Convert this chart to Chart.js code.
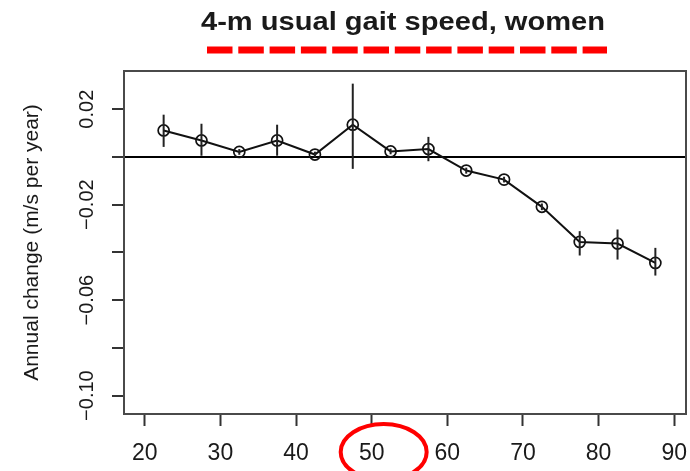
<!DOCTYPE html>
<html>
<head>
<meta charset="utf-8">
<script src="https://cdn.jsdelivr.net/npm/chart.js@4.4.1/dist/chart.umd.min.js"></script>
<style>
  body { margin: 0; background: #fff; }
  #wrap { width: 690px; height: 471px; }
</style>
</head>
<body>
<div id="wrap"><canvas id="gait" width="690" height="471"></canvas></div>
<script>
// --- data ---
const ageMid = [22.5, 27.5, 32.5, 37.5, 42.5, 47.5, 52.5, 57.5, 62.5, 67.5, 72.5, 77.5, 82.5, 87.5];
const annualChange = [0.0111, 0.0069, 0.0021, 0.0069, 0.0010, 0.0135, 0.0023, 0.0033,
  -0.0057, -0.0095, -0.0209, -0.0356, -0.0363, -0.0444];
const errHigh = [0.0177, 0.0139, 0.0033, 0.0135, 0.0022, 0.0307, 0.0035, 0.0084,
  -0.0045, -0.0083, -0.0195, -0.0311, -0.0304, -0.0381];
const errLow = [0.0042, 0.0005, 0.0009, 0.0005, 0.0000, -0.0050, 0.0011, -0.0018,
  -0.0070, -0.0107, -0.0223, -0.0413, -0.0430, -0.0497];
const xTicks = [20, 30, 40, 50, 60, 70, 80, 90];
const yTicks = [0.02, 0, -0.02, -0.04, -0.06, -0.08, -0.10];
const yTickLabels = ["0.02", "", "\u22120.02", "", "\u22120.06", "", "\u22120.10"];
const titleText = "4-m usual gait speed, women";
const yTitle = "Annual change (m/s per year)";

const FONT = "'Liberation Sans', Arial, Helvetica, sans-serif";
const INK = "#1a1a1a";

const decor = {
  id: "decor",
  beforeDraw(chart) {
    const c = chart.ctx;
    c.save();
    c.fillStyle = "#fff";
    c.fillRect(0, 0, chart.width, chart.height);
    c.restore();
  },
  afterDatasetsDraw(chart) {
    const c = chart.ctx;
    const x = chart.scales.x, y = chart.scales.y;
    const a = chart.chartArea;

    // error bars
    c.save();
    c.strokeStyle = "#222";
    c.lineWidth = 2;
    ageMid.forEach((m, i) => {
      const px = x.getPixelForValue(m);
      c.beginPath();
      c.moveTo(px, y.getPixelForValue(errHigh[i]));
      c.lineTo(px, y.getPixelForValue(errLow[i]));
      c.stroke();
    });
    c.restore();

    // plot box
    c.save();
    c.strokeStyle = "#4a4a4a";
    c.lineWidth = 2;
    c.strokeRect(a.left, a.top, a.right - a.left, a.bottom - a.top);
    c.restore();

    // title
    c.save();
    c.fillStyle = INK;
    c.font = "bold 25px " + FONT;
    c.textAlign = "center";
    c.textBaseline = "alphabetic";
    const w = c.measureText(titleText).width;
    c.translate(403, 30);
    c.scale(404 / w, 1);
    c.fillText(titleText, 0, 0);
    c.restore();

    // red dashed underline
    c.save();
    c.strokeStyle = "#ff0000";
    c.lineWidth = 7;
    c.lineCap = "butt";
    c.setLineDash([25.5, 5.8]);
    c.beginPath();
    c.moveTo(207, 50);
    c.lineTo(607, 50);
    c.stroke();
    c.restore();

    // y tick labels (rotated, R style)
    c.save();
    c.fillStyle = INK;
    c.font = "20px " + FONT;
    c.textAlign = "center";
    c.textBaseline = "alphabetic";
    yTicks.forEach((v, i) => {
      if (!yTickLabels[i]) return;
      c.save();
      c.translate(93, y.getPixelForValue(v));
      c.rotate(-Math.PI / 2);
      c.fillText(yTickLabels[i], 0, 0);
      c.restore();
    });
    c.restore();

    // y axis title
    c.save();
    c.fillStyle = INK;
    c.font = "21px " + FONT;
    c.textAlign = "center";
    c.textBaseline = "middle";
    c.translate(32, (a.top + a.bottom) / 2);
    c.rotate(-Math.PI / 2);
    c.fillText(yTitle, 0, 0);
    c.restore();

    // red circle around the "50" label
    c.save();
    c.strokeStyle = "#ff0000";
    c.lineWidth = 4;
    c.beginPath();
    c.ellipse(x.getPixelForValue(50) + 12, 452, 43, 28, 0, 0, Math.PI * 2);
    c.stroke();
    c.restore();
  }
};

new Chart(document.getElementById("gait"), {
  type: "line",
  data: {
    datasets: [{
      data: ageMid.map((m, i) => ({ x: m, y: annualChange[i] })),
      borderColor: "#111",
      borderWidth: 2,
      tension: 0,
      pointRadius: 5.5,
      pointBorderWidth: 1.7,
      pointBorderColor: "#111",
      pointBackgroundColor: "rgba(0,0,0,0)"
    }]
  },
  options: {
    responsive: false,
    animation: false,
    layout: { autoPadding: false, padding: { left: 0, right: 4, top: 71, bottom: 0 } },
    plugins: { legend: { display: false }, tooltip: { enabled: false } },
    scales: {
      x: {
        type: "linear",
        min: 17.26,
        max: 91.55,
        afterBuildTicks: s => { s.ticks = xTicks.map(v => ({ value: v })); },
        afterFit: s => { s.height = 57; s.paddingLeft = 0; s.paddingRight = 0; },
        border: { display: false },
        grid: { drawOnChartArea: false, tickLength: 12, tickWidth: 2, tickColor: "#333" },
        ticks: {
          color: INK,
          font: { family: FONT, size: 23 },
          padding: 14,
          maxRotation: 0,
          autoSkip: false
        }
      },
      y: {
        min: -0.1077,
        max: 0.0360,
        afterBuildTicks: s => { s.ticks = yTicks.map(v => ({ value: v })); },
        afterFit: s => { s.width = 124; s.paddingTop = 0; s.paddingBottom = 0; },
        border: { display: false },
        grid: {
          color: ctx => (ctx.tick && ctx.tick.value === 0 ? "#000" : "rgba(0,0,0,0)"),
          lineWidth: 2,
          tickLength: 12,
          tickWidth: 2,
          tickColor: "#333"
        },
        ticks: { display: false }
      }
    }
  },
  plugins: [decor]
});
</script>
</body>
</html>
